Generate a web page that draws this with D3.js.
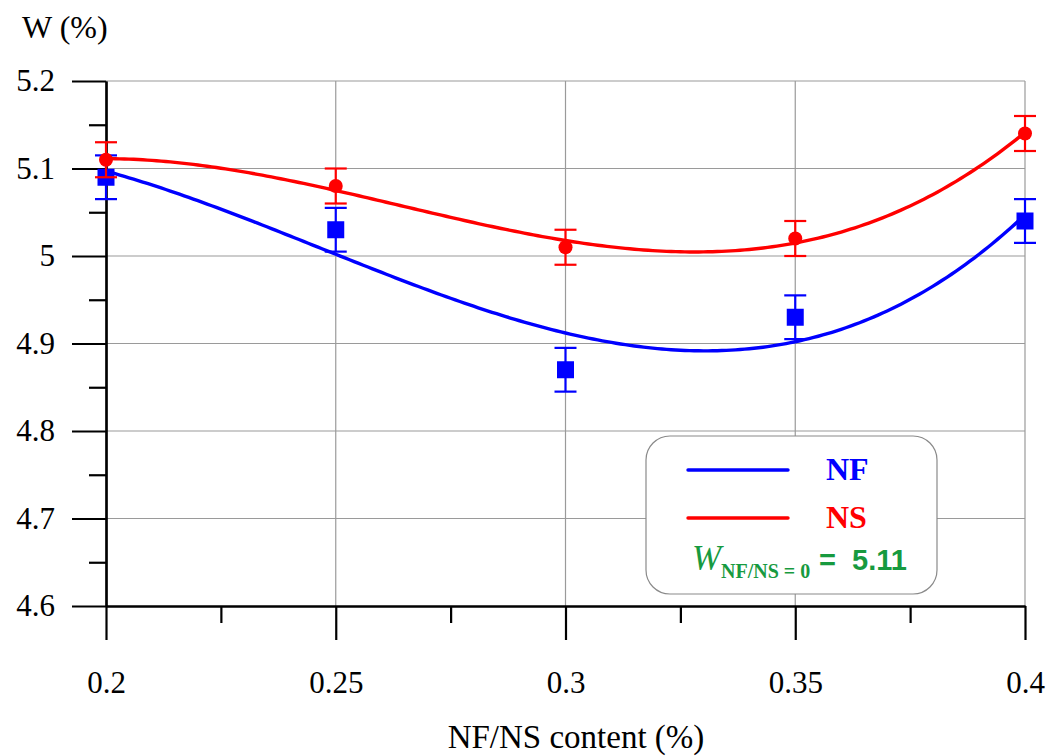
<!DOCTYPE html>
<html>
<head>
<meta charset="utf-8">
<script src="https://cdn.jsdelivr.net/npm/d3@7"></script>
<style>
  html, body { margin: 0; padding: 0; background: #fff; }
  svg { display: block; }
  text { font-family: "Liberation Serif", "Times New Roman", serif; }
</style>
</head>
<body>
<svg id="chart" width="1064" height="756"></svg>
<script>
// Measured water content W (%) against additive content (%)
const contents = [0.2, 0.25, 0.3, 0.35, 0.4];
const nfValues = [5.09, 5.03, 4.87, 4.93, 5.04];
const nsValues = [5.11, 5.08, 5.01, 5.02, 5.14];
const nfErrors = [0.025, 0.025, 0.025, 0.025, 0.025];
const nsErrors = [0.02, 0.02, 0.02, 0.02, 0.02];

const xMajorTicks = [0.2, 0.25, 0.3, 0.35, 0.4];
const xMinorTicks = [0.225, 0.275, 0.325, 0.375];
const yMajorTicks = [4.6, 4.7, 4.8, 4.9, 5.0, 5.1, 5.2];
const yMinorTicks = [4.65, 4.75, 4.85, 4.95, 5.05, 5.15];

const baselineLabel = "5.11";

const BLUE = "#0000ff", RED = "#ff0000", GREEN = "#179a3f", GRID = "#9a9a9a";
const SERIF = "Liberation Serif, Times New Roman, serif";

const svg = d3.select("#chart");
const x = d3.scaleLinear().domain([0.2, 0.4]).range([106, 1025]);
const y = d3.scaleLinear().domain([4.6, 5.2]).range([606, 81]);

// Cubic least-squares trend through the measured points
function cubicFit(xs, ys) {
  const n = 4;
  const A = Array.from({length: n}, () => new Array(n + 1).fill(0));
  xs.forEach((xv, k) => {
    for (let i = 0; i < n; i++) {
      for (let j = 0; j < n; j++) A[i][j] += Math.pow(xv, i + j);
      A[i][n] += ys[k] * Math.pow(xv, i);
    }
  });
  for (let c = 0; c < n; c++) {
    let p = c;
    for (let r = c + 1; r < n; r++) if (Math.abs(A[r][c]) > Math.abs(A[p][c])) p = r;
    [A[c], A[p]] = [A[p], A[c]];
    for (let r = 0; r < n; r++) {
      if (r === c) continue;
      const f = A[r][c] / A[c][c];
      for (let k = c; k <= n; k++) A[r][k] -= f * A[c][k];
    }
  }
  const coef = A.map((row, i) => row[n] / row[i]);
  return t => coef.reduce((s, cc, i) => s + cc * Math.pow(t, i), 0);
}
// center x for numerical stability
const xc = contents.map(v => (v - 0.3) / 0.05);
const nfFit = cubicFit(xc, nfValues);
const nsFit = cubicFit(xc, nsValues);

// Grid
const grid = svg.append("g").attr("stroke", GRID).attr("stroke-width", 1.2);
grid.selectAll("line.v").data(xMajorTicks.slice(1)).join("line")
  .attr("x1", d => x(d)).attr("x2", d => x(d)).attr("y1", y(5.2)).attr("y2", y(4.6));
grid.selectAll("line.h").data(yMajorTicks.slice(1)).join("line")
  .attr("x1", x(0.2)).attr("x2", x(0.4)).attr("y1", d => y(d)).attr("y2", d => y(d));

// Axes
const fmt = d => String(+d.toFixed(2));
function styleAxis(g) {
  g.attr("font-family", SERIF).attr("font-size", 31);
  g.selectAll("path.domain").attr("stroke", "#000").attr("stroke-width", 2.2);
  g.selectAll(".tick line").attr("stroke", "#000").attr("stroke-width", 2.2);
  g.selectAll(".tick text").attr("fill", "#000")
    .attr("font-family", SERIF).attr("font-size", 31);
}
svg.append("g").attr("transform", `translate(0,${y(4.6)})`)
  .call(d3.axisBottom(x).tickValues(xMinorTicks).tickSize(17).tickFormat("").tickSizeOuter(0))
  .call(styleAxis);
svg.append("g").attr("transform", `translate(0,${y(4.6)})`)
  .call(d3.axisBottom(x).tickValues(xMajorTicks).tickSize(34).tickPadding(31).tickFormat(fmt).tickSizeOuter(0))
  .call(styleAxis);
svg.append("g").attr("transform", `translate(${x(0.2)},0)`)
  .call(d3.axisLeft(y).tickValues(yMinorTicks).tickSize(17).tickFormat("").tickSizeOuter(0))
  .call(styleAxis);
svg.append("g").attr("transform", `translate(${x(0.2)},0)`)
  .call(d3.axisLeft(y).tickValues(yMajorTicks).tickSize(34).tickPadding(17).tickFormat(fmt).tickSizeOuter(0))
  .call(styleAxis);

// Axis titles
svg.append("text").attr("x", 22).attr("y", 38).attr("font-family", SERIF)
  .attr("font-size", 32).text("W (%)");
svg.append("text").attr("x", 576).attr("y", 748).attr("text-anchor", "middle")
  .attr("font-family", SERIF).attr("font-size", 33).text("NF/NS content (%)");

// Series
const samples = d3.range(0, 201).map(i => 0.2 + i * 0.001);
const line = fn => d3.line().x(d => x(d)).y(d => y(fn((d - 0.3) / 0.05)));

function drawSeries(values, errors, fit, color, shape) {
  const g = svg.append("g");
  g.append("path").datum(samples).attr("d", line(fit))
    .attr("fill", "none").attr("stroke", color).attr("stroke-width", 3.4);
  const pts = contents.map((c, i) => ({c, v: values[i], e: errors[i]}));
  const eb = g.append("g").attr("stroke", color).attr("stroke-width", 2.2);
  eb.selectAll("line.stem").data(pts).join("line")
    .attr("x1", d => x(d.c)).attr("x2", d => x(d.c))
    .attr("y1", d => y(d.v + d.e)).attr("y2", d => y(d.v - d.e));
  eb.selectAll("line.top").data(pts).join("line")
    .attr("x1", d => x(d.c) - 11).attr("x2", d => x(d.c) + 11)
    .attr("y1", d => y(d.v + d.e)).attr("y2", d => y(d.v + d.e));
  eb.selectAll("line.bot").data(pts).join("line")
    .attr("x1", d => x(d.c) - 11).attr("x2", d => x(d.c) + 11)
    .attr("y1", d => y(d.v - d.e)).attr("y2", d => y(d.v - d.e));
  if (shape === "square") {
    g.selectAll("rect").data(pts).join("rect")
      .attr("x", d => x(d.c) - 8.5).attr("y", d => y(d.v) - 8.5)
      .attr("width", 17).attr("height", 17).attr("fill", color);
  } else {
    g.selectAll("circle").data(pts).join("circle")
      .attr("cx", d => x(d.c)).attr("cy", d => y(d.v)).attr("r", 7).attr("fill", color);
  }
}
drawSeries(nfValues, nfErrors, nfFit, BLUE, "square");
drawSeries(nsValues, nsErrors, nsFit, RED, "circle");

// Legend
const lg = svg.append("g");
lg.append("rect").attr("x", 646).attr("y", 436).attr("width", 291).attr("height", 158)
  .attr("rx", 24).attr("ry", 24).attr("fill", "#fff").attr("stroke", "#8a8a8a").attr("stroke-width", 1.2);
lg.append("line").attr("x1", 688).attr("x2", 788).attr("y1", 470).attr("y2", 470)
  .attr("stroke", BLUE).attr("stroke-width", 3.4).attr("stroke-linecap", "round");
lg.append("line").attr("x1", 688).attr("x2", 788).attr("y1", 518).attr("y2", 518)
  .attr("stroke", RED).attr("stroke-width", 3.4).attr("stroke-linecap", "round");
lg.append("text").attr("x", 826).attr("y", 480).attr("fill", BLUE).attr("font-family", SERIF)
  .attr("font-size", 32).attr("font-weight", "bold").text("NF");
lg.append("text").attr("x", 826).attr("y", 528).attr("fill", RED).attr("font-family", SERIF)
  .attr("font-size", 32).attr("font-weight", "bold").text("NS");
const wt = lg.append("text").attr("x", 692).attr("y", 570).attr("fill", GREEN).attr("font-family", SERIF);
wt.append("tspan").attr("font-size", 35).attr("font-style", "italic").text("W");
wt.append("tspan").attr("x", 721).attr("y", 578).attr("font-size", 20).attr("font-weight", "bold")
  .text("NF/NS = 0");
wt.append("tspan").attr("x", 819).attr("y", 570)
  .attr("font-family", "Liberation Sans, Arial, sans-serif")
  .attr("font-size", 29).attr("font-weight", "bold").attr("xml:space", "preserve")
  .text("=  " + baselineLabel);
</script>
</body>
</html>
